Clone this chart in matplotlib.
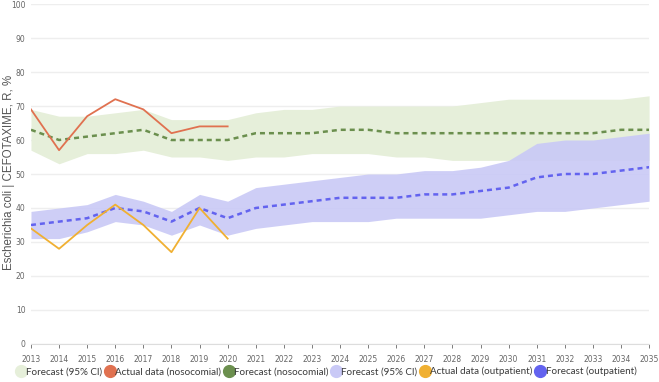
import matplotlib.pyplot as plt
from matplotlib.lines import Line2D

years = list(range(2013, 2036))
act_years = list(range(2013, 2021))

# nosocomial
noso_actual = [69, 57, 67, 72, 69, 62, 64, 64]
noso_fc = [63, 60, 61, 62, 63, 60, 60, 60, 62, 62, 62, 63, 63, 62, 62, 62, 62, 62, 62, 62, 62, 63, 63]
noso_hi = [69, 67, 67, 68, 69, 66, 66, 66, 68, 69, 69, 70, 70, 70, 70, 70, 71, 72, 72, 72, 72, 72, 73]
noso_lo = [57, 53, 56, 56, 57, 55, 55, 54, 55, 55, 56, 56, 56, 55, 55, 54, 54, 54, 54, 54, 54, 54, 54]

# outpatient
out_actual = [34, 28, 35, 41, 35, 27, 40, 31]
out_fc = [35, 36, 37, 40, 39, 36, 40, 37, 40, 41, 42, 43, 43, 43, 44, 44, 45, 46, 49, 50, 50, 51, 52]
out_hi = [39, 40, 41, 44, 42, 39, 44, 42, 46, 47, 48, 49, 50, 50, 51, 51, 52, 54, 59, 60, 60, 61, 62]
out_lo = [31, 31, 33, 36, 35, 32, 35, 32, 34, 35, 36, 36, 36, 37, 37, 37, 37, 38, 39, 39, 40, 41, 42]

c_gfill = "#e6efda"
c_gline = "#6b8f4e"
c_red = "#e07150"
c_bfill = "#c9c9f6"
c_bline = "#6363ef"
c_yel = "#f0b032"

fig = plt.figure(figsize=(6.59, 3.82), dpi=100)
ax = fig.add_axes([0.047, 0.0995, 0.938, 0.89])

ax.fill_between(years, noso_lo, noso_hi, color=c_gfill, lw=0, zorder=1)
ax.fill_between(years, out_lo, out_hi, color=c_bfill, lw=0, alpha=0.9, zorder=2)
ax.plot(years, noso_fc, color=c_gline, lw=1.8, dashes=(2, 1.6), zorder=3)
ax.plot(years, out_fc, color=c_bline, lw=1.8, dashes=(2, 1.6), zorder=3)
ax.plot(act_years, noso_actual, color=c_red, lw=1.3, zorder=4)
ax.plot(act_years, out_actual, color=c_yel, lw=1.3, zorder=4)

ax.set_xlim(2013, 2035)
ax.set_ylim(0, 100)
ax.set_xticks(years)
ax.set_yticks(range(0, 101, 10))
ax.tick_params(axis="x", labelsize=5.5, colors="#666666", length=3, width=0.6, pad=5)
ax.tick_params(axis="y", labelsize=5.5, colors="#666666", length=0, pad=4)
ax.grid(axis="y", color="#eeeeee", lw=1)
ax.set_axisbelow(True)
for s in ["top", "right", "left"]:
    ax.spines[s].set_visible(False)
ax.spines["bottom"].set_color("#dddddd")

fig.text(9 / 659, 1 - 172 / 382, "Escherichia coli | CEFOTAXIME, R, %", rotation=90,
         fontsize=8.3, color="#555555", family="Liberation Sans", ha="center", va="center")

handles = [
    Line2D([], [], ls="", marker="o", ms=8.5, mfc=c_gfill, mec=c_gfill),
    Line2D([], [], ls="", marker="o", ms=8.5, mfc=c_red, mec=c_red),
    Line2D([], [], ls="", marker="o", ms=8.5, mfc=c_gline, mec=c_gline),
    Line2D([], [], ls="", marker="o", ms=8.5, mfc=c_bfill, mec=c_bfill),
    Line2D([], [], ls="", marker="o", ms=8.5, mfc=c_yel, mec=c_yel),
    Line2D([], [], ls="", marker="o", ms=8.5, mfc=c_bline, mec=c_bline),
]
labels = ["Forecast (95% CI)", "Actual data (nosocomial)", "Forecast (nosocomial)",
          "Forecast (95% CI)", "Actual data (outpatient)", "Forecast (outpatient)"]
fig.legend(handles, labels, loc="center", bbox_to_anchor=(0.495, 0.027), ncol=6,
           frameon=False, handletextpad=0.05, columnspacing=0.25, handlelength=1,
           prop={"family": "Lato", "size": 7.1}, labelcolor="#3a3a3a")

fig.savefig("out.png", dpi=100)
